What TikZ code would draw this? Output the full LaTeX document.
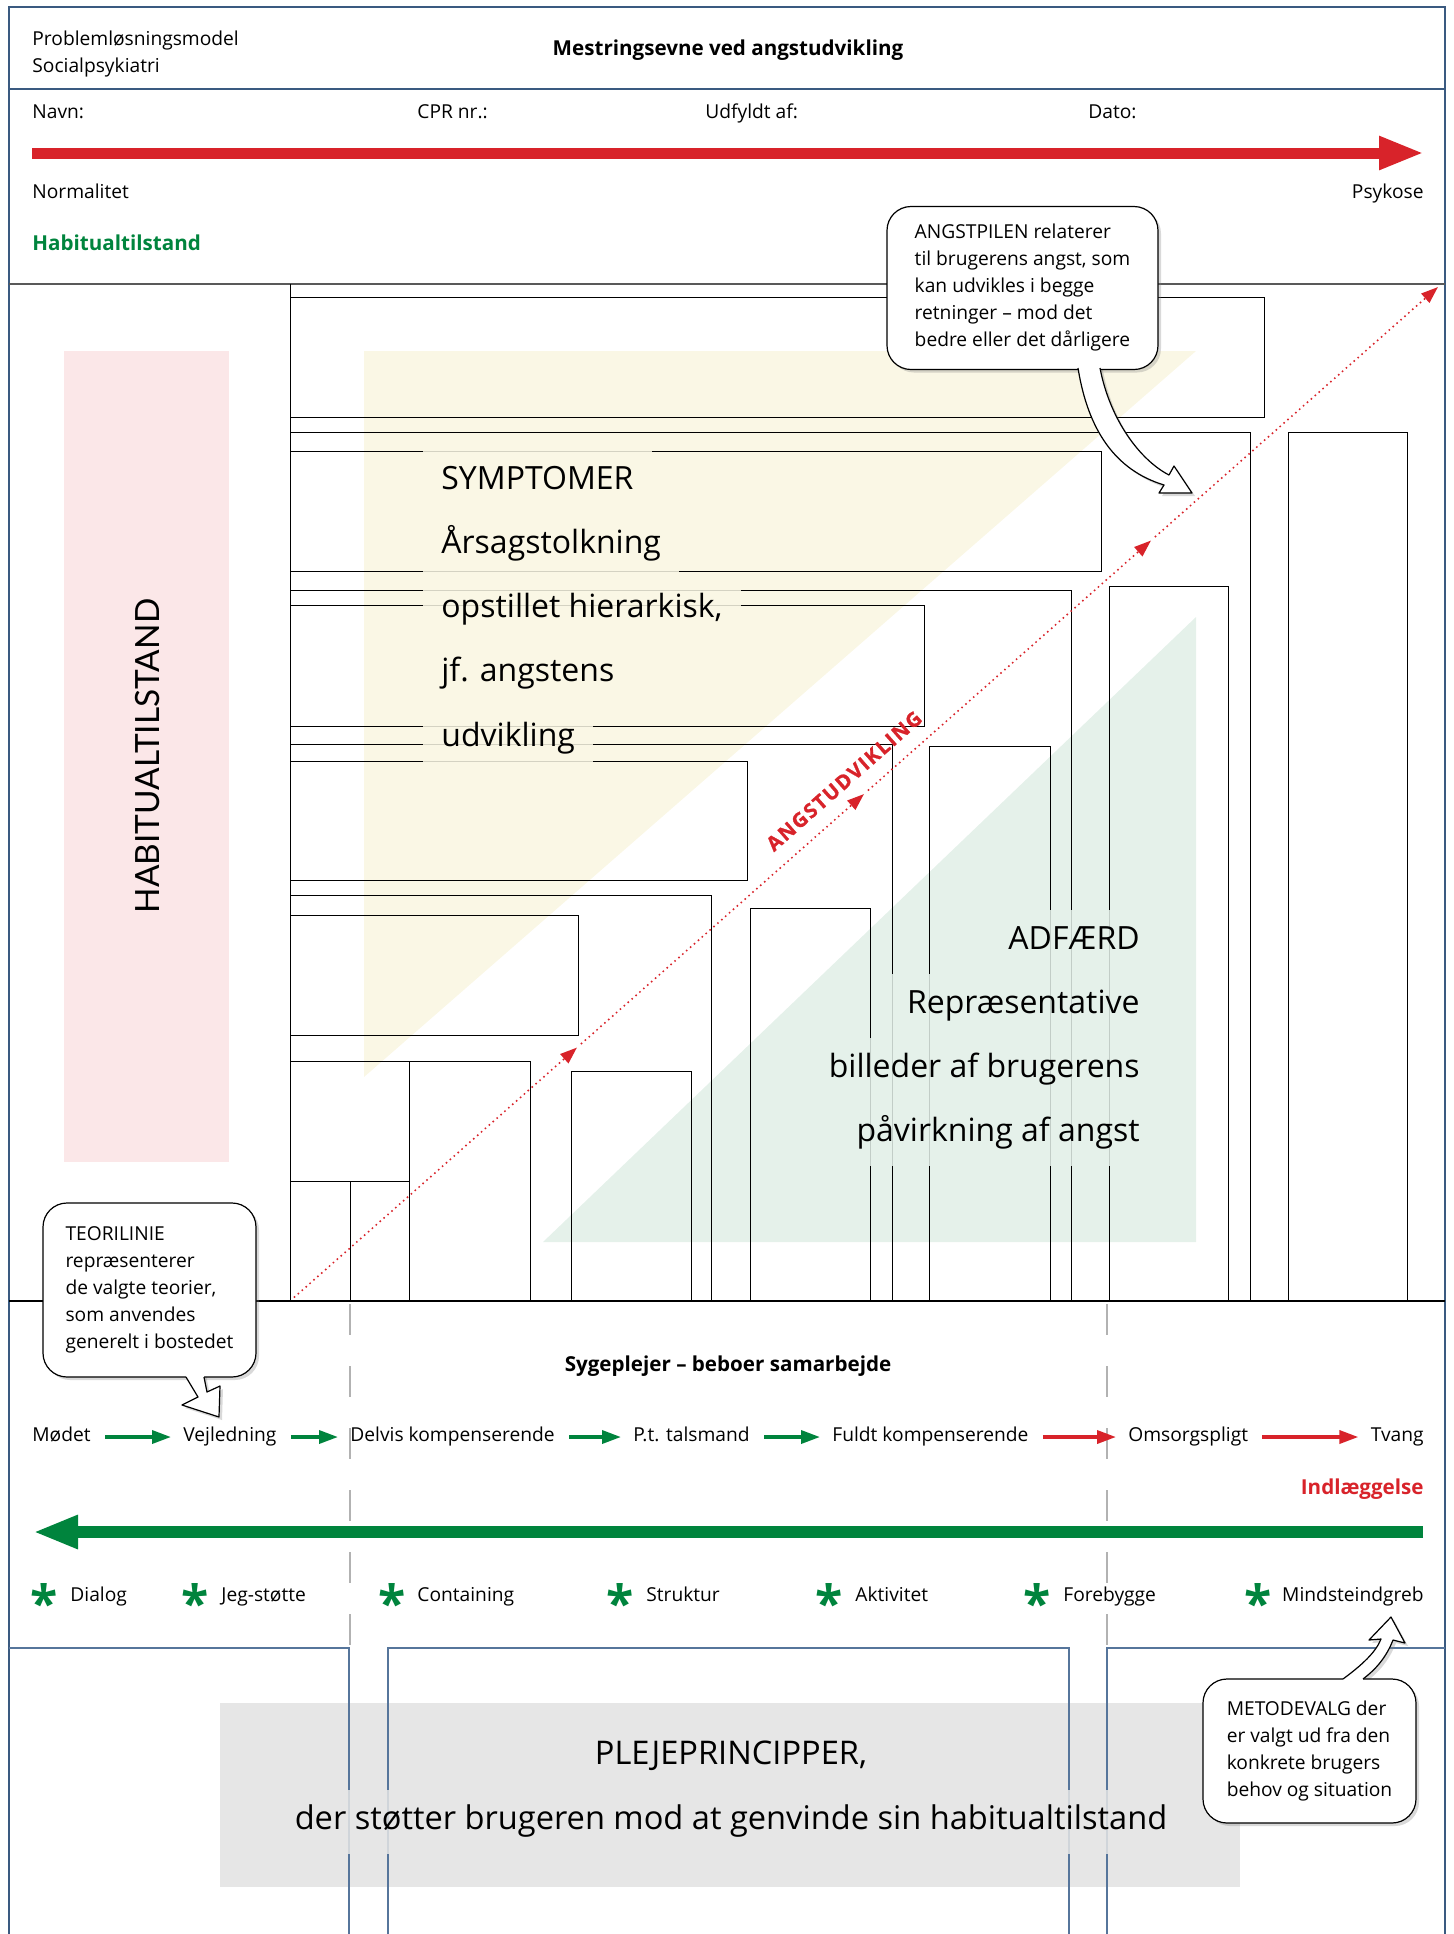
\documentclass[tikz,border=0pt]{standalone}
\usepackage{fontspec}
\setmainfont{Open Sans}
\newfontfamily\latofont{Lato}
\newfontfamily\spacedfont{Open Sans}[LetterSpace=8, FakeBold=1.2]
\usetikzlibrary{arrows.meta, calc, shadows}

\definecolor{framec}{HTML}{3A5A80}
\definecolor{sectc}{HTML}{56759B}
\definecolor{angstred}{HTML}{D8232A}
\definecolor{mgreen}{HTML}{00843D}
\definecolor{pinkbg}{HTML}{FBE7E8}
\definecolor{creambg}{HTML}{FAF7E5}
\definecolor{mintbg}{HTML}{E5F1EA}
\definecolor{graybg}{HTML}{E6E6E6}

\newcommand{\smallfont}{\fontsize{9.6}{13.5}\selectfont}
\newcommand{\boldfont}{\fontsize{10.3}{13.5}\selectfont\bfseries}
\newcommand{\bigfont}{\fontsize{16}{18}\selectfont}

\tikzset{
  lbl/.style={inner sep=0pt, anchor=west, text height=6.8pt, text depth=2pt, font=\smallfont},
  boldlbl/.style={lbl, font=\boldfont},
  frameline/.style={draw=framec, line width=1.1pt},
  sectline/.style={draw=sectc, line width=0.9pt},
  boxline/.style={draw=black, line width=0.5pt},
  guideline/.style={draw=black!30, line width=0.6pt, dash pattern=on 15.5pt off 15.5pt},
  symline/.style={anchor=west, inner xsep=9pt, inner ysep=0pt, minimum height=32pt,
    text height=11pt, text depth=3.5pt, fill=creambg, fill opacity=0.85, text opacity=1, font=\bigfont},
  adfline/.style={symline, anchor=east, fill=mintbg},
  plejeline/.style={symline, anchor=center, fill=graybg, font=\fontsize{16.3}{18}\selectfont},
  flowg/.style={draw=mgreen, line width=1.75pt, -{Triangle[length=9.5pt, width=6.5pt]},
    shorten <=7pt, shorten >=6pt},
  flowr/.style={flowg, draw=angstred},
  bigarrow/.style={line width=5.5pt, -{Triangle[length=22.5pt, width=15.5pt]}},
  angstline/.style={draw=angstred, line width=1.1pt, line cap=round, dash pattern=on 0pt off 2.6pt,
    -{Triangle[length=8.5pt, width=6pt]}, shorten <=3pt},
  callout/.style={draw=black, line width=0.6pt, fill=white, rounded corners=12pt, align=left,
    inner sep=0pt, font=\smallfont},
  callshadow/.style={drop shadow={shadow xshift=1.5pt, shadow yshift=-1.5pt, opacity=0.3}},
  tail/.style={draw=black, line width=0.6pt, line join=round},
  asterisk/.style={text=mgreen, inner sep=0pt, font=\fontsize{25}{25}\selectfont\bfseries, yshift=-2.5pt}
}

\begin{document}
\begin{tikzpicture}[x=0.5pt, y=-0.5pt, font=\smallfont]
\useasboundingbox (0,0) rectangle (1454,1934);

% coloured backgrounds
\fill[pinkbg] (64,351) rectangle (229,1162);
\fill[creambg] (364,351) -- (1196,351) -- (364,1077) -- cycle;
\fill[mintbg] (1196,617) -- (1196,1242) -- (543,1242) -- cycle;
\fill[graybg] (220,1703) rectangle (1240,1887);

% frame and section rules
\draw[frameline] (9,1934) -- (9,7) -- (1445,7) -- (1445,1934);
\draw[frameline] (9,89) -- (1445,89);
\draw[boxline, draw=black!65, line width=0.9pt] (9,284) -- (1445,284);
\draw[boxline, line width=0.7pt] (9,1301) -- (1445,1301);
\draw[boxline] (290,284) -- (290,1301);

% stacked boxes
\draw[boxline] (290,297) rectangle (1264,417);
\draw[boxline] (290,432) -- (1250,432) -- (1250,1301);
\draw[boxline] (290,451) rectangle (1101,571);
\draw[boxline] (1288,1301) -- (1288,432) -- (1407,432) -- (1407,1301);
\draw[boxline] (1109,1301) -- (1109,586) -- (1228,586) -- (1228,1301);
\draw[boxline] (290,590) -- (1071,590) -- (1071,1301);
\draw[boxline] (290,605) rectangle (924,726);
\draw[boxline] (290,744) -- (892,744) -- (892,1301);
\draw[boxline] (929,1301) -- (929,746) -- (1050,746) -- (1050,1301);
\draw[boxline] (290,761) rectangle (747,880);
\draw[boxline] (290,895) -- (711,895) -- (711,1301);
\draw[boxline] (290,915) rectangle (578,1035);
\draw[boxline] (750,1301) -- (750,908) -- (870,908) -- (870,1301);
\draw[boxline] (290,1061) -- (530,1061) -- (530,1301);
\draw[boxline] (409,1061) -- (409,1301);
\draw[boxline] (571,1301) -- (571,1071) -- (691,1071) -- (691,1301);
\draw[boxline] (290,1181) -- (409,1181);
\draw[boxline] (350,1181) -- (350,1301);

% grey guides down to the lower section
\draw[guideline] (350,1304) -- (350,1648);
\draw[guideline] (1107,1304) -- (1107,1648);

% lower section
\draw[sectline] (9,1648) -- (349,1648) -- (349,1934);
\draw[sectline] (388,1934) -- (388,1648) -- (1069,1648) -- (1069,1934);
\draw[sectline] (1107,1934) -- (1107,1648) -- (1445,1648);

% header
\node[lbl] (model) at (32,41) {Problemløsningsmodel};
\node[lbl] (socpsyk) at (32,68) {Socialpsykiatri};
\node[boldlbl, anchor=center] (title) at (728,51) {Mestringsevne ved angstudvikling};
\node[lbl] (navn) at (32,114) {Navn:};
\node[lbl] (cpr) at (417,114) {CPR nr.:};
\node[lbl] (udfyldt) at (705,114) {Udfyldt af:};
\node[lbl] (dato) at (1088,114) {Dato:};

\coordinate (normstart) at (32,153);
\coordinate (psykend) at (1424,153);
\draw[bigarrow, draw=angstred] (normstart) -- (psykend);
\node[lbl] (normal) at (32,194) {Normalitet};
\node[lbl, anchor=east] (psykose) at (1424,194) {Psykose};
\node[boldlbl, text=mgreen] (habit) at (32,246) {Habitualtilstand};

\node[rotate=90, font={\latofont\fontsize{16.7}{17}\selectfont}] (habvert) at (148,756) {HABITUALTILSTAND};

% symptoms and behaviour
\node[symline] (sym1) at (423,482) {SYMPTOMER};
\node[symline] (sym2) at (423,546) {Årsagstolkning};
\node[symline] (sym3) at (423,610) {opstillet hierarkisk,};
\node[symline] (sym4) at (423,674) {jf. angstens};
\node[symline] (sym5) at (423,739) {udvikling};

\node[adfline] (adf1) at (1158,942) {ADFÆRD};
\node[adfline] (adf2) at (1158,1006) {Repræsentative};
\node[adfline] (adf3) at (1158,1070) {billeder af brugerens};
\node[adfline] (adf4) at (1158,1134) {påvirkning af angst};

% anxiety line
\coordinate (teostart) at (290,1301);
\coordinate (angstend) at (1438,287);
\coordinate (angst1) at ($(teostart)!0.25!(angstend)$);
\coordinate (angst2) at ($(teostart)!0.5!(angstend)$);
\coordinate (angst3) at ($(teostart)!0.75!(angstend)$);
\draw[angstline] (teostart) -- (angst1);
\draw[angstline] (angst1) -- (angst2);
\draw[angstline] (angst2) -- (angst3);
\draw[angstline] (angst3) -- (angstend);
\node[rotate=41.4, text=angstred, font={\spacedfont\fontsize{10}{11}\selectfont\bfseries}] (angsttxt) at (844,781) {ANGSTUDVIKLING};

% cooperation row
\node[boldlbl, anchor=center] (samarb) at (728,1367) {Sygeplejer – beboer samarbejde};
\node[lbl] (modet) at (32,1437) {Mødet};
\node[lbl] (vejl) at (183,1437) {Vejledning};
\node[lbl] (delvis) at (350,1437) {Delvis kompenserende};
\node[lbl] (talsm) at (633,1437) {P.t. talsmand};
\node[lbl] (fuldt) at (832,1437) {Fuldt kompenserende};
\node[lbl] (omsorg) at (1128,1437) {Omsorgspligt};
\node[lbl, anchor=east] (tvang) at (1424,1437) {Tvang};
\draw[flowg] (modet) -- (vejl);
\draw[flowg] (vejl) -- (delvis);
\draw[flowg] (delvis) -- (talsm);
\draw[flowg] (talsm) -- (fuldt);
\draw[flowr] (fuldt) -- (omsorg);
\draw[flowr] (omsorg) -- (tvang);
\node[boldlbl, anchor=east, text=angstred] (indl) at (1424,1490) {Indlæggelse};

\coordinate (plejestart) at (1423,1532);
\coordinate (plejeend) at (33,1532);
\draw[bigarrow, draw=mgreen, line width=6pt] (plejestart) -- (plejeend);

\node[asterisk] (dialogstar) at (44,1597) {*};
\node[lbl] (dialog) at (70,1597) {Dialog};
\node[asterisk] (jegstar) at (195,1597) {*};
\node[lbl] (jeg) at (221,1597) {Jeg-støtte};
\node[asterisk] (containstar) at (392,1597) {*};
\node[lbl] (contain) at (417,1597) {Containing};
\node[asterisk] (strukturstar) at (620,1597) {*};
\node[lbl] (struktur) at (646,1597) {Struktur};
\node[asterisk] (aktivstar) at (829,1597) {*};
\node[lbl] (aktiv) at (855,1597) {Aktivitet};
\node[asterisk] (forebygstar) at (1037,1597) {*};
\node[lbl] (forebyg) at (1063,1597) {Forebygge};
\node[asterisk] (mindststar) at (1258,1597) {*};
\node[lbl, anchor=east] (mindst) at (1424,1597) {Mindsteindgreb};

% care principles
\node[plejeline] (pleje1) at (731,1757) {PLEJEPRINCIPPER,};
\node[plejeline] (pleje2) at (731,1822) {der støtter brugeren mod at genvinde sin habitualtilstand};

% callouts
\fill[white, callshadow] (1078,360) -- (1078,368) .. controls (1088,430) and (1115,470) .. (1164,485) -- (1159,493) -- (1192,493) -- (1174,466) -- (1169,475) .. controls (1140,460) and (1110,420) .. (1100,368) -- (1100,360) -- cycle;
\node[callout, callshadow, minimum width=135.5pt, minimum height=81.5pt] (angstbox) at (1022.5,288) {ANGSTPILEN relaterer\\til brugerens angst, som\\kan udvikles i begge\\retninger – mod det\\bedre eller det dårligere};
\fill[white] (1078,360) -- (1078,368) .. controls (1088,430) and (1115,470) .. (1164,485) -- (1159,493) -- (1192,493) -- (1174,466) -- (1169,475) .. controls (1140,460) and (1110,420) .. (1100,368) -- (1100,360) -- cycle;
\draw[tail] (1078,368) .. controls (1088,430) and (1115,470) .. (1164,485) -- (1159,493) -- (1192,493) -- (1174,466) -- (1169,475) .. controls (1140,460) and (1110,420) .. (1100,368);

\fill[white, callshadow] (186,1371) -- (186,1377) -- (198,1397) -- (182,1405) -- (219,1417) -- (220,1386) -- (207,1392) -- (204,1377) -- (204,1371) -- cycle;
\node[callout, callshadow, minimum width=106.5pt, minimum height=87pt] (teobox) at (149.5,1290) {TEORILINIE\\repræsenterer\\de valgte teorier,\\som anvendes\\generelt i bostedet};
\fill[white] (186,1371) -- (186,1377) -- (198,1397) -- (182,1405) -- (219,1417) -- (220,1386) -- (207,1392) -- (204,1377) -- (204,1371) -- cycle;
\draw[tail] (186,1377) -- (198,1397) -- (182,1405) -- (219,1417) -- (220,1386) -- (207,1392) -- (204,1377);

\fill[white, callshadow] (1343,1685) -- (1343,1679) .. controls (1362,1665) and (1376,1652) .. (1381,1639) -- (1369,1640) -- (1391,1617) -- (1405,1643) -- (1393,1640) .. controls (1386,1658) and (1375,1670) .. (1363,1679) -- (1363,1685) -- cycle;
\node[callout, callshadow, minimum width=106.5pt, minimum height=72pt] (metobox) at (1309.5,1751) {METODEVALG der\\er valgt ud fra den\\konkrete brugers\\behov og situation};
\fill[white] (1343,1685) -- (1343,1679) .. controls (1362,1665) and (1376,1652) .. (1381,1639) -- (1369,1640) -- (1391,1617) -- (1405,1643) -- (1393,1640) .. controls (1386,1658) and (1375,1670) .. (1363,1679) -- (1363,1685) -- cycle;
\draw[tail] (1343,1679) .. controls (1362,1665) and (1376,1652) .. (1381,1639) -- (1369,1640) -- (1391,1617) -- (1405,1643) -- (1393,1640) .. controls (1386,1658) and (1375,1670) .. (1363,1679);
\end{tikzpicture}
\end{document}
